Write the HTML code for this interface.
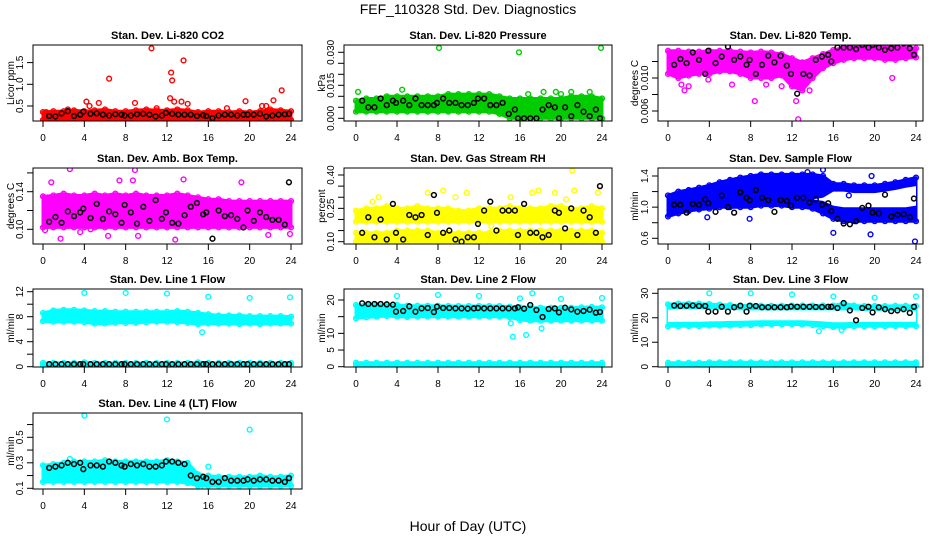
<!DOCTYPE html>
<html><head><meta charset="utf-8"><style>
html,body{margin:0;padding:0;background:#fff;}
svg text{font-family:"Liberation Sans",sans-serif;}
</style></head><body>
<svg id="c" width="936" height="540" xmlns="http://www.w3.org/2000/svg">
<text x="468" y="14" text-anchor="middle" font-size="14">FEF_110328  Std. Dev. Diagnostics</text>
<text x="468" y="531" text-anchor="middle" font-size="14">Hour of Day (UTC)</text>
</svg>
<script>
const hours=[0,1,2,3,4,5,6,7,8,9,10,11,12,13,14,15,16,17,18,19,20,21,22,23,24];
const bx=[0.6,1.2,1.8,2.4,3.0,3.6,3.9,4.6,5.2,5.8,6.4,7.0,7.6,7.9,8.5,9.1,9.7,10.3,10.9,11.5,11.9,12.5,13.1,13.7,14.3,14.9,15.5,15.8,16.4,17.0,17.6,18.2,18.8,19.4,19.8,20.4,21.0,21.6,22.2,22.8,23.4,23.8];
const xTicks=[0,4,8,12,16,20,24];

const co2Lo=[0.18,0.18,0.18,0.18,0.18,0.18,0.18,0.18,0.18,0.18,0.18,0.18,0.18,0.18,0.18,0.18,0.18,0.18,0.18,0.18,0.18,0.18,0.18,0.18,0.18];
const co2Hi=[0.36,0.38,0.38,0.40,0.38,0.40,0.42,0.38,0.38,0.40,0.42,0.40,0.40,0.42,0.40,0.36,0.38,0.38,0.36,0.38,0.36,0.38,0.42,0.40,0.38];
const co2OutX=[4.2,4.5,5.4,6.4,8.9,10.5,12.4,12.5,12.3,12.7,13.6,13.4,14.0,19.6,22.3,23.1,21.2,21.6,2.4,11.0,17.8,0.3];
const co2OutY=[0.60,0.50,0.57,1.13,0.57,1.83,1.27,1.09,0.68,0.60,1.55,0.60,0.55,0.61,0.63,0.86,0.50,0.50,0.42,0.45,0.45,0.36];
const co2Black=[0.27,0.26,0.33,0.38,0.27,0.30,0.37,0.32,0.33,0.30,0.28,0.31,0.30,0.28,0.28,0.31,0.32,0.30,0.26,0.28,0.34,0.32,0.30,0.30,0.30,0.27,0.29,0.27,0.22,0.28,0.30,0.30,0.28,0.30,0.30,0.30,0.32,0.26,0.28,0.30,0.31,0.32];

const presLo=[0.003,0.003,0.003,0.003,0.003,0.003,0.003,0.003,0.003,0.003,0.003,0.003,0.003,0.003,0.002,0.000,0.000,0.000,0.000,0.000,0.000,0.000,0.000,0.000,0.000];
const presHi=[0.008,0.009,0.009,0.010,0.010,0.010,0.010,0.010,0.010,0.011,0.011,0.011,0.011,0.011,0.010,0.009,0.009,0.009,0.009,0.009,0.009,0.010,0.010,0.010,0.009];
const presOutX=[8.1,15.9,23.9,4.5,18.3,19.5,22.8,0.2,20.0,21.0,16.8];
const presOutY=[0.032,0.030,0.032,0.013,0.012,0.012,0.012,0.012,0.011,0.012,0.011];
const presBlack=[0.008,0.005,0.005,0.009,0.006,0.008,0.007,0.008,0.006,0.009,0.006,0.006,0.006,0.007,0.009,0.007,0.007,0.006,0.006,0.007,0.009,0.009,0.006,0.006,0.007,0.002,0.004,0.000,0.000,0.000,0.000,0.004,0.006,0.005,0.000,0.005,0.001,0.006,0.003,0.001,0.004,0.000];

const tempLo=[0.0105,0.0100,0.0103,0.0105,0.0105,0.0108,0.0108,0.0105,0.0100,0.0100,0.0100,0.0103,0.0090,0.0085,0.0100,0.0112,0.0118,0.0122,0.0124,0.0124,0.0124,0.0122,0.0122,0.0124,0.0125];
const tempHi=[0.0133,0.0133,0.0132,0.0132,0.0133,0.0133,0.0133,0.0132,0.0131,0.0132,0.0131,0.0129,0.0124,0.0119,0.0124,0.0129,0.0134,0.0137,0.0138,0.0138,0.0138,0.0138,0.0137,0.0137,0.0136];
const tempOutX=[1.3,1.6,3.9,6.2,8.4,12.6,12.4,13.7,21.7,11.0,9.5,2.0];
const tempOutY=[0.0092,0.0085,0.0098,0.0092,0.0072,0.0050,0.0072,0.0085,0.0100,0.0090,0.0092,0.0090];
const tempBlack=[0.0116,0.0123,0.0118,0.0131,0.0122,0.0105,0.0133,0.0118,0.0126,0.0138,0.0122,0.0126,0.0116,0.0122,0.0105,0.0116,0.0127,0.0119,0.0127,0.0115,0.0105,0.0081,0.0105,0.0103,0.0122,0.0126,0.0128,0.0120,0.0137,0.0137,0.0137,0.0135,0.0140,0.0137,0.0140,0.0137,0.0134,0.0136,0.0137,0.0142,0.0136,0.0128];

const ambLo=[0.102,0.102,0.102,0.102,0.102,0.102,0.102,0.102,0.102,0.102,0.102,0.102,0.102,0.102,0.102,0.102,0.102,0.102,0.102,0.102,0.102,0.102,0.102,0.102,0.102];
const ambHi=[0.135,0.136,0.138,0.136,0.136,0.138,0.136,0.138,0.136,0.138,0.136,0.136,0.136,0.138,0.136,0.134,0.132,0.132,0.130,0.130,0.130,0.130,0.130,0.130,0.130];
const ambOutX=[2.6,8.9,0.8,7.4,8.7,13.6,19.2,11.3,1.7,6.3,4.6,21.8,12.8,23.9,3.6,0.2,9.2];
const ambOutY=[0.164,0.163,0.150,0.152,0.152,0.153,0.150,0.079,0.090,0.093,0.100,0.094,0.089,0.095,0.097,0.099,0.093];
const ambBlack=[0.108,0.113,0.107,0.119,0.114,0.118,0.122,0.112,0.127,0.111,0.119,0.116,0.107,0.126,0.118,0.106,0.124,0.109,0.131,0.111,0.118,0.107,0.106,0.115,0.124,0.128,0.116,0.118,0.090,0.120,0.114,0.115,0.111,0.102,0.120,0.109,0.118,0.113,0.110,0.110,0.105,0.150];

const rhLo=[0.10,0.10,0.10,0.10,0.10,0.10,0.10,0.10,0.10,0.10,0.10,0.10,0.10,0.10,0.10,0.10,0.10,0.10,0.10,0.10,0.10,0.10,0.10,0.10,0.10];
const rhMid=[0.14,0.14,0.14,0.14,0.15,0.15,0.15,0.15,0.14,0.14,0.14,0.14,0.14,0.14,0.15,0.15,0.15,0.15,0.15,0.15,0.15,0.15,0.15,0.15,0.14];
const rhLo2=[0.19,0.19,0.19,0.19,0.19,0.19,0.19,0.19,0.19,0.19,0.19,0.19,0.19,0.19,0.19,0.19,0.19,0.19,0.19,0.19,0.19,0.19,0.19,0.19,0.19];
const rhHi=[0.24,0.25,0.25,0.26,0.25,0.25,0.26,0.25,0.25,0.25,0.24,0.24,0.25,0.25,0.25,0.26,0.25,0.25,0.25,0.26,0.26,0.25,0.25,0.26,0.25];
const rhOutX=[7.0,8.5,10.8,9.7,2.2,15.1,17.2,17.8,19.4,21.1,21.3,23.6,20.5,1.6,12.0,13.2];
const rhOutY=[0.32,0.33,0.32,0.30,0.30,0.30,0.32,0.33,0.32,0.42,0.33,0.32,0.29,0.28,0.13,0.17];
const rhBlack=[0.14,0.21,0.12,0.20,0.11,0.27,0.14,0.11,0.22,0.21,0.22,0.13,0.31,0.23,0.14,0.15,0.11,0.10,0.12,0.12,0.18,0.24,0.28,0.15,0.24,0.24,0.24,0.13,0.27,0.14,0.14,0.12,0.13,0.24,0.23,0.16,0.25,0.13,0.24,0.21,0.14,0.35];

const sampLo=[0.88,0.92,0.95,0.97,0.98,1.00,1.00,1.00,1.00,1.02,1.02,1.02,1.00,1.00,0.98,0.92,0.85,0.82,0.82,0.82,0.82,0.82,0.82,0.82,0.82];
const sampHi=[1.15,1.20,1.22,1.25,1.28,1.32,1.35,1.38,1.40,1.42,1.42,1.42,1.42,1.42,1.42,1.40,1.30,1.30,1.28,1.28,1.28,1.30,1.32,1.35,1.38];
const sampGapLo=[1.1,1.1,1.1,1.1,1.1,1.1,1.1,1.1,1.1,1.1,1.1,1.1,1.1,1.1,1.1,1.08,1.02,1.0,1.0,1.0,1.0,1.0,1.0,1.0,1.02];
const sampGapHi=[1.1,1.1,1.1,1.1,1.1,1.1,1.1,1.1,1.1,1.1,1.1,1.1,1.1,1.1,1.1,1.12,1.2,1.2,1.18,1.18,1.18,1.2,1.22,1.25,1.27];
const sampOutX=[15.0,16.0,19.6,23.9,7.9,17.5,3.8,19.7,13.5];
const sampOutY=[1.48,0.67,0.65,0.56,0.85,1.15,0.87,1.40,1.45];
const sampBlack=[1.03,1.03,0.93,1.04,1.03,1.10,1.05,0.94,1.15,1.00,0.93,1.19,1.12,1.09,1.22,1.12,1.09,0.94,1.09,1.08,1.02,1.12,1.12,1.06,1.10,1.03,1.05,0.95,0.85,0.79,0.78,0.82,0.99,1.02,0.93,0.92,1.16,0.88,0.90,0.91,0.87,1.11];

const l1Lo=[7.3,7.2,7.2,7.2,7.1,6.9,6.9,7.0,7.0,7.0,7.1,7.2,7.2,7.1,7.0,6.8,6.9,6.9,6.9,6.8,6.9,6.8,6.9,6.9,6.9];
const l1Hi=[8.6,9.0,9.1,9.1,9.0,8.9,8.9,8.8,8.8,8.8,8.8,8.8,8.8,8.9,8.8,8.6,8.4,8.2,8.2,8.2,8.1,8.1,8.1,8.1,8.0];
const l1ZLo=[0.2,0.2,0.2,0.2,0.2,0.2,0.2,0.2,0.2,0.2,0.2,0.2,0.2,0.2,0.2,0.2,0.2,0.2,0.2,0.2,0.2,0.2,0.2,0.2,0.2];
const l1ZHi=[0.6,0.6,0.6,0.6,0.7,0.6,0.6,0.6,0.6,0.6,0.6,0.6,0.6,0.6,0.6,0.7,0.6,0.6,0.6,0.6,0.6,0.6,0.6,0.6,0.6];
const l1OutX=[4.0,8.0,12.0,16.0,20.0,23.9,15.4];
const l1OutY=[11.8,11.8,11.7,11.2,11.0,11.1,5.5];
const l1Black=[0.4,0.4,0.4,0.4,0.4,0.4,0.4,0.4,0.4,0.4,0.4,0.4,0.4,0.4,0.4,0.4,0.4,0.4,0.4,0.4,0.4,0.4,0.4,0.4,0.4,0.4,0.4,0.4,0.4,0.4,0.4,0.4,0.4,0.4,0.4,0.4,0.4,0.4,0.4,0.4,0.4,0.4];

const l2Lo=[14.5,14.8,15.0,15.2,15.0,14.9,15.0,15.0,15.0,15.0,15.0,15.0,15.0,15.0,15.0,14.8,14.0,13.8,13.8,13.8,13.8,13.8,13.8,13.8,13.8];
const l2Hi=[18.5,18.6,18.6,18.6,18.5,18.3,18.3,18.3,18.3,18.2,18.2,18.2,18.2,18.2,18.2,18.0,17.8,17.8,17.7,17.7,17.7,17.7,17.8,17.9,17.8];
const l2ZLo=[0.4,0.4,0.4,0.4,0.4,0.4,0.4,0.4,0.4,0.4,0.4,0.4,0.4,0.4,0.4,0.4,0.4,0.4,0.4,0.4,0.4,0.4,0.4,0.4,0.4];
const l2ZHi=[1.2,1.2,1.2,1.2,1.2,1.2,1.2,1.2,1.2,1.2,1.2,1.2,1.2,1.2,1.2,1.2,1.2,1.2,1.2,1.2,1.2,1.2,1.2,1.2,1.2];
const l2OutX=[4.0,8.0,12.0,16.0,17.2,20.0,24.0,15.3,16.6,18.1,15.1];
const l2OutY=[21.2,21.5,21.2,20.5,22.0,20.3,20.6,9.0,9.5,11.5,13.0];
const l2Black=[19.0,18.8,18.8,18.8,18.7,18.6,16.5,16.7,18.1,16.5,17.5,17.6,16.4,18.0,17.6,17.6,17.5,17.5,17.4,17.5,17.6,17.5,17.5,17.5,17.5,17.5,17.5,17.8,17.4,18.5,17.0,14.9,17.3,17.5,16.3,17.7,17.2,16.5,16.7,17.1,16.2,16.4];

const l3Lo=[16.5,16.5,16.6,16.6,16.8,16.8,16.8,17.0,17.0,17.2,17.2,17.3,17.3,17.2,17.0,16.5,16.2,16.2,16.5,16.5,16.5,16.5,16.6,16.6,16.6];
const l3Hi=[25.5,25.8,25.8,25.8,25.6,25.4,25.2,25.0,25.0,24.9,24.9,24.9,25.0,25.0,25.0,25.0,25.0,26.0,25.0,24.8,24.8,24.8,24.9,24.9,24.8];
const l3GapLo=[18.3,18.3,18.4,18.4,18.5,18.6,18.7,18.8,18.9,19.0,19.0,19.0,19.0,19.0,18.8,18.5,18.2,18.2,18.3,18.3,18.3,18.3,18.4,18.4,18.4];
const l3GapHi=[23.3,23.5,23.5,23.5,23.4,23.3,23.2,23.0,23.0,23.0,23.0,23.0,23.0,23.0,23.0,23.0,23.0,23.0,23.0,22.8,22.8,22.8,22.8,22.8,22.8];
const l3ZLo=[0.4,0.4,0.4,0.4,0.4,0.4,0.4,0.4,0.4,0.4,0.4,0.4,0.4,0.4,0.4,0.4,0.4,0.4,0.4,0.4,0.4,0.4,0.4,0.4,0.4];
const l3ZHi=[1.6,1.6,1.6,1.6,1.8,1.8,1.8,1.8,1.8,1.8,1.8,1.8,1.8,1.8,1.8,1.8,1.8,1.8,1.8,1.8,1.8,1.8,1.8,1.8,1.8];
const l3OutX=[4.0,8.0,12.0,16.0,20.0,24.0,14.6,16.8];
const l3OutY=[30.0,30.0,29.5,28.7,28.2,28.7,14.5,15.0];
const l3Black=[25.0,24.8,24.9,25.0,24.8,24.8,22.5,22.5,24.5,22.5,24.3,24.9,22.5,24.9,24.8,24.3,24.3,24.3,24.3,24.3,24.6,24.5,24.5,24.5,24.4,24.4,24.5,24.5,24.0,26.0,23.0,19.0,24.0,24.5,22.2,24.3,23.5,22.7,23.0,23.5,22.0,24.5];

const l4Lo=[0.15,0.15,0.15,0.15,0.15,0.15,0.15,0.15,0.15,0.15,0.15,0.15,0.15,0.15,0.14,0.12,0.12,0.12,0.12,0.12,0.12,0.12,0.12,0.12,0.12];
const l4Hi=[0.28,0.29,0.30,0.31,0.31,0.31,0.32,0.31,0.31,0.31,0.31,0.31,0.32,0.31,0.30,0.21,0.20,0.19,0.19,0.19,0.19,0.20,0.19,0.19,0.20];
const l4OutX=[4.0,12.0,20.0,16.0,2.6,15.2];
const l4OutY=[0.67,0.64,0.56,0.27,0.33,0.11];
const l4Black=[0.26,0.27,0.28,0.30,0.29,0.30,0.25,0.28,0.28,0.27,0.31,0.30,0.28,0.27,0.29,0.28,0.29,0.27,0.27,0.28,0.31,0.31,0.30,0.29,0.20,0.18,0.19,0.18,0.15,0.15,0.18,0.16,0.16,0.16,0.17,0.16,0.17,0.17,0.16,0.16,0.15,0.18];

const NS='http://www.w3.org/2000/svg';
const svg=document.getElementById('c');
function mk(tag,attrs,parent){const e=document.createElementNS(NS,tag);for(const k in attrs)e.setAttribute(k,attrs[k]);(parent||svg).appendChild(e);return e;}

const cols=[{l:33,r:302,x0:43,x24:291,yl:10},{l:344,r:612,x0:356,x24:602,yl:321},{l:658,r:923,x0:668,x24:916,yl:634}];
const rows=[{t:45,b:121},{t:168,b:244},{t:289,b:367},{t:413,b:489}];

const panels=[
 {name:'co2',title:'Stan. Dev. Li-820 CO2',c:0,r:0,ylab:'Licor ppm',col:'#ff0000',v1:0.5,p1:106,v2:1.5,p2:62.6,ticks:[0.5,1.0,1.5],labels:['0.5','1.0','1.5'],bands:[[co2Lo,co2Hi]],ox:co2OutX,oy:co2OutY,blk:co2Black},
 {name:'pressure',title:'Stan. Dev. Li-820 Pressure',c:1,r:0,ylab:'kPa',col:'#00cc00',v1:0,p1:118.3,v2:0.03,p2:52.3,ticks:[0,0.005,0.01,0.015,0.02,0.025,0.03],labels:['0.000','','','0.015','','','0.030'],bands:[[presLo,presHi]],ox:presOutX,oy:presOutY,blk:presBlack},
 {name:'licor-temp',title:'Stan. Dev. Li-820 Temp.',c:2,r:0,ylab:'degrees C',col:'#ff00ff',v1:0.006,p1:111,v2:0.010,p2:78,ticks:[0.006,0.008,0.010,0.012],labels:['0.006','','0.010',''],bands:[[tempLo,tempHi]],ox:tempOutX,oy:tempOutY,blk:tempBlack},
 {name:'amb-box-temp',title:'Stan. Dev. Amb. Box Temp.',c:0,r:1,ylab:'degrees C',col:'#ff00ff',v1:0.10,p1:229.3,v2:0.14,p2:191.7,ticks:[0.10,0.12,0.14,0.16],labels:['0.10','','0.14',''],bands:[[ambLo,ambHi]],ox:ambOutX,oy:ambOutY,blk:ambBlack},
 {name:'gas-stream-rh',title:'Stan. Dev. Gas Stream RH',c:1,r:1,ylab:'percent',col:'#ffff00',v1:0.10,p1:241.7,v2:0.40,p2:175,ticks:[0.10,0.15,0.20,0.25,0.30,0.35,0.40],labels:['0.10','','','0.25','','','0.40'],bands:[[rhLo,rhMid],[rhLo2,rhHi]],ox:rhOutX,oy:rhOutY,blk:rhBlack},
 {name:'sample-flow',title:'Stan. Dev. Sample Flow',c:2,r:1,ylab:'ml/min',col:'#0000ff',v1:0.6,p1:238.3,v2:1.4,p2:176,ticks:[0.6,0.8,1.0,1.2,1.4],labels:['0.6','','1.0','','1.4'],bands:[[sampLo,sampHi]],gaps:[[sampGapLo,sampGapHi]],ox:sampOutX,oy:sampOutY,blk:sampBlack},
 {name:'line1-flow',title:'Stan. Dev. Line 1 Flow',c:0,r:2,ylab:'ml/min',col:'#00ffff',v1:0,p1:366.7,v2:12,p2:291.7,ticks:[0,2,4,6,8,10,12],labels:['0','','4','','8','','12'],bands:[[l1Lo,l1Hi],[l1ZLo,l1ZHi]],ox:l1OutX,oy:l1OutY,blk:l1Black},
 {name:'line2-flow',title:'Stan. Dev. Line 2 Flow',c:1,r:2,ylab:'ml/min',col:'#00ffff',v1:0,p1:366.7,v2:20,p2:300,ticks:[0,5,10,15,20],labels:['0','5','10','','20'],bands:[[l2Lo,l2Hi],[l2ZLo,l2ZHi]],ox:l2OutX,oy:l2OutY,blk:l2Black},
 {name:'line3-flow',title:'Stan. Dev. Line 3 Flow',c:2,r:2,ylab:'ml/min',col:'#00ffff',v1:0,p1:366.7,v2:30,p2:293.3,ticks:[0,10,20,30],labels:['0','10','20','30'],bands:[[l3Lo,l3Hi],[l3ZLo,l3ZHi]],gaps:[[l3GapLo,l3GapHi]],ox:l3OutX,oy:l3OutY,blk:l3Black},
 {name:'line4-flow',title:'Stan. Dev. Line 4 (LT) Flow',c:0,r:3,ylab:'ml/min',col:'#00ffff',v1:0.1,p1:488.3,v2:0.5,p2:437.3,ticks:[0.1,0.2,0.3,0.4,0.5,0.6],labels:['0.1','','0.3','','0.5',''],bands:[[l4Lo,l4Hi]],ox:l4OutX,oy:l4OutY,blk:l4Black}
];

panels.forEach(p=>{
 const C=cols[p.c],R=rows[p.r];
 const X=h=>C.x0+(C.x24-C.x0)*h/24;
 const Y=v=>p.p1+(p.p2-p.p1)*(v-p.v1)/(p.v2-p.v1);
 const g=mk('g',{});
 
 
 const clipId='clip-'+p.name;
 const cp=mk('clipPath',{id:clipId},g);
 mk('rect',{x:C.l,y:R.t,width:C.r-C.l,height:R.b-R.t},cp);
 const pl=mk('g',{'clip-path':'url(#'+clipId+')'},g);
 p.bands.forEach(([lo,hi])=>{
  let d='';
  hours.forEach((h,i)=>{d+=(i?'L':'M')+X(h).toFixed(1)+','+Y(hi[i]).toFixed(1);});
  for(let i=hours.length-1;i>=0;i--)d+='L'+X(hours[i]).toFixed(1)+','+Y(lo[i]).toFixed(1);
  const b=mk('path',{d:d+'Z',fill:p.col,stroke:p.col,'stroke-width':3,'stroke-linejoin':'round'},pl);
  
  
  hours.forEach((h,i)=>{
   [lo[i],hi[i]].forEach(v=>{
    const pt=mk('circle',{cx:X(h),cy:Y(v),r:2.4,fill:'none',stroke:p.col,'stroke-width':1.4},pl);
    
    
   });
  });
 });
 (p.gaps||[]).forEach(([lo,hi])=>{
  let d='';
  hours.forEach((h,i)=>{d+=(i?'L':'M')+X(h).toFixed(1)+','+Y(hi[i]).toFixed(1);});
  for(let i=hours.length-1;i>=0;i--)d+='L'+X(hours[i]).toFixed(1)+','+Y(lo[i]).toFixed(1);
  const gp=mk('path',{d:d+'Z',fill:'#fff'},pl);
  
  
 });
 p.ox.forEach((h,i)=>{
  const pt=mk('circle',{cx:X(h),cy:Y(p.oy[i]),r:2.4,fill:'none',stroke:p.col,'stroke-width':1.4},pl);
  
  
 });
 const n=Math.min(bx.length,p.blk.length);
 for(let i=0;i<n;i++){
  const pt=mk('circle',{cx:X(bx[i]),cy:Y(p.blk[i]),r:2.4,fill:'none',stroke:'#000','stroke-width':1.5},pl);
  
  
 }
 const box=mk('rect',{x:C.l,y:R.t,width:C.r-C.l,height:R.b-R.t,fill:'none',stroke:'#000','stroke-width':1},g);
 
 
 const t=mk('text',{x:(C.l+C.r)/2,y:R.t-6,'text-anchor':'middle','font-size':11,'font-weight':'bold'},g);
 t.textContent=p.title;
 
 
 xTicks.forEach(h=>{
  mk('line',{x1:X(h),x2:X(h),y1:R.b,y2:R.b+6,stroke:'#000'},g);
  const tl=mk('text',{x:X(h),y:R.b+20,'text-anchor':'middle','font-size':10},g);
  tl.textContent=h;
  
  
 });
 mk('line',{x1:X(0),x2:X(24),y1:R.b,y2:R.b,stroke:'#000'},g);
 p.ticks.forEach((v,i)=>{
  const y=Y(v);
  mk('line',{x1:C.l-6,x2:C.l,y1:y,y2:y,stroke:'#000'},g);
  if(p.labels[i]){
   const tl=mk('text',{x:C.l-10,y:y,'text-anchor':'middle','font-size':10,transform:'rotate(-90 '+(C.l-10)+' '+y+')'},g);
   tl.textContent=p.labels[i];
   
   
  }
 });
 const yt=(R.t+R.b)/2;
 const yl=mk('text',{x:C.yl+4,y:yt,'text-anchor':'middle','font-size':10,transform:'rotate(-90 '+(C.yl+4)+' '+yt+')'},g);
 yl.textContent=p.ylab;
 
 
});
</script>
</body></html>
